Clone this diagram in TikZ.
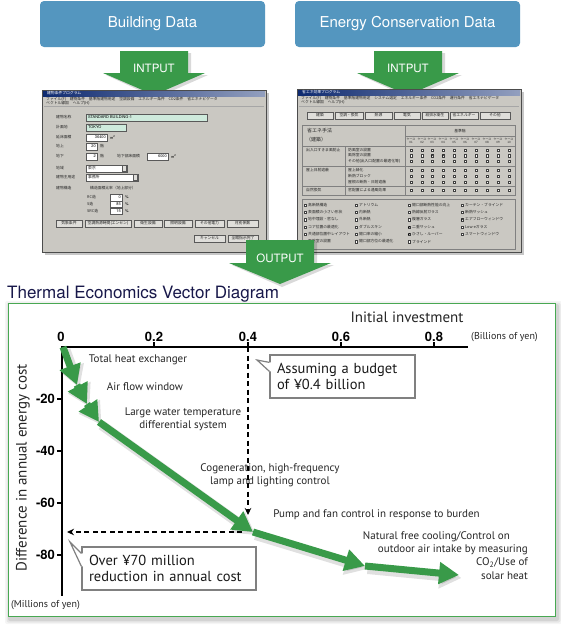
\documentclass[tikz,border=0pt]{standalone}
\usepackage{fontspec}
\setmainfont{PT Sans}
\newfontfamily\helv{TeX Gyre Heros}
\newfontfamily\jpfont{Noto Sans CJK JP}
\usetikzlibrary{arrows.meta}

\definecolor{boxblue}{RGB}{84,150,191}
\definecolor{vecgreen}{RGB}{57,154,73}
\definecolor{framegreen}{RGB}{72,168,82}
\definecolor{titlenavy}{RGB}{24,24,74}
\definecolor{wingray}{RGB}{202,200,194}
\definecolor{fieldgreen}{RGB}{206,234,220}
\definecolor{barblue}{RGB}{14,42,112}

\newcommand{\ioarrow}[4]{%
  \fill[black,opacity=0.15] ({#1-32},{#2+2}) -- ({#1+37},{#2+2}) -- ({#1+37},{#3+2}) -- ({#1+54},{#3+2}) -- ({#1+2},{#4+3}) -- ({#1-48},{#3+2}) -- ({#1-32},{#3+2}) -- cycle;
  \fill[vecgreen] ({#1-34},#2) -- ({#1+34},#2) -- ({#1+34},#3) -- ({#1+51},#3) -- (#1,#4) -- ({#1-51},#3) -- ({#1-34},#3) -- cycle;
}

\begin{document}
\begin{tikzpicture}[x=1pt,y=-1pt,
  topbox/.style={fill=boxblue, rounded corners=4pt, minimum width=225pt, minimum height=46pt, inner sep=0pt, text=white, font=\helv\fontsize{15}{18}\selectfont},
  iotext/.style={inner sep=0pt, text=white, font=\helv\fontsize{11.5}{13}\selectfont},
  winframe/.style={fill=wingray, draw=black!70, line width=0.9pt},
  btn/.style={fill=wingray!60!white, draw=black!65, line width=0.4pt},
  fld/.style={fill=white, draw=black!65, line width=0.4pt},
  cb/.style={fill=white, draw=black!75, line width=0.3pt},
  jp/.style={anchor=west, inner sep=0pt, text=black!85, font=\jpfont\fontsize{3.8}{4.4}\selectfont},
  jpc/.style={jp, anchor=center},
  en/.style={anchor=west, inner sep=0pt, font=\helv\fontsize{3.9}{4.4}\selectfont},
  axisline/.style={line width=2pt, line cap=rect},
  ticklbl/.style={inner sep=0pt, font=\helv\bfseries\fontsize{13}{13}\selectfont},
  unitlbl/.style={inner sep=0pt, text=black!85, font=\fontsize{10}{12}\selectfont},
  vec/.style={line width=7pt, draw=vecgreen, -{Triangle[length=20pt,width=21pt]}},
  vecshadow/.style={line width=10pt, draw=black, opacity=0.12, -{Triangle[length=22pt,width=24pt]}},
  lbl/.style={inner sep=0pt, align=center, text=black!85, font=\fontsize{11}{13.2}\selectfont},
  guide/.style={line width=1.7pt, dash pattern=on 5pt off 3.5pt, -{Stealth[length=7pt,width=6.5pt]}},
  callbox/.style={draw=black!50, line width=1.2pt, fill=white, minimum height=43pt, inner xsep=7pt, align=left, text=black!90, font=\fontsize{14.5}{16.5}\selectfont}
]
  \fill[white] (0,0) rectangle (561,625);
  \useasboundingbox (0,0) rectangle (561,625);

  \node[topbox] (bldg) at (152.5,24) {Building Data};
  \node[topbox] (econ) at (407.5,24) {Energy Conservation Data};

  \ioarrow{154}{51}{73}{95}
  \ioarrow{408}{51}{73}{95}
  \node[iotext] (in1) at (154,68) {INTPUT};
  \node[iotext] (in2) at (408,68) {INTPUT};

  \fill[black,opacity=0.22] (45,93) rectangle (269,255);
  \draw[winframe] (42,90) rectangle (266,252);
  \shade[left color=barblue, right color=barblue!45] (43,91) rectangle (265,96);
  \node[jp, text=white] (lwt) at (47,93.5) {建物条件プログラム};
  \node[jp] (lwm1) at (46,98.8) {ファイル(F)\quad 建物条件\quad 基準階建物用途\quad 空調設備\quad エネルギー条件\quad CO2条件\quad 省エネナビゲータ};
  \node[jp] (lwm2) at (46,102.8) {ベクトル線図\quad ヘルプ(H)};
  \draw[black!35, line width=0.4pt] (44,106) -- (264,106);
  \foreach \t/\y [count=\i] in {建物名称/117.5, 計画地/127.5, 延床面積/137.5, 地上/146.5, 地下/156.5, 地域/168.5, 建物主用途/177.5, 建物構造/188} 
    \node[jp] (lw\i) at (56,\y) {\t};
  \draw[fld, fill=fieldgreen] (86,114) rectangle (207,121);
  \draw[fld, fill=fieldgreen] (86,124) rectangle (126,131);
  \foreach \xa/\ya/\xb/\yb in {86/134/107/141, 86/143/97/150, 86/153/97/160, 147/153/168/160, 110/194/122/201, 110/201/122/207.5, 110/208/122/214.5}
    \draw[fld] (\xa,\ya) rectangle (\xb,\yb);
  \draw[fld] (86,165) rectangle (127,172);
  \draw[btn] (122,165.5) rectangle (126.5,171.5);
  \draw[fld] (86,174) rectangle (138,181);
  \draw[btn] (133,174.5) rectangle (137.5,180.5);
  \node[en] (lf1) at (88,117.5) {STANDARD BUILDING-1};
  \node[en] (lf2) at (88,127.5) {TOKYO};
  \node[en, anchor=east] (lf3) at (106,137.5) {36400};
  \node[en, anchor=east] (lf4) at (96,146.5) {20};
  \node[en, anchor=east] (lf5) at (96,156.5) {2};
  \node[en, anchor=east] (lf6) at (167,156.5) {6000};
  \node[en, anchor=east] (lf7) at (121,197.5) {0};
  \node[en, anchor=east] (lf8) at (121,204.3) {85};
  \node[en, anchor=east] (lf9) at (121,211.3) {15};
  \node[en] (lu1) at (110,137.5) {m\textsuperscript{2}};
  \node[jp] (lu2) at (100,146.5) {階};
  \node[jp] (lu3) at (100,156.5) {階};
  \node[jp] (lu4) at (117,156.5) {地下部床面積};
  \node[en] (lu5) at (171,156.5) {m\textsuperscript{2}};
  \node[jp] (lc1) at (88,168.5) {東京};
  \node[jp] (lc2) at (88,177.5) {事務所};
  \node[jp] (ls0) at (90,188) {構造面積比率（地上部分）};
  \foreach \t/\y [count=\i] in {RC造/197.5, S造/204.3, SRC造/211.3} {
    \node[jp] (ls\i) at (87,\y) {\t};
    \node[en] (lp\i) at (125,\y) {\%};
  }
  \foreach \xa/\xb/\t [count=\i] in {56/82/気象条件, 85/131/空調熱源時間(エンセン), 134/162/衛生設備, 164/192/照明設備, 195/224/その他電力, 227/258/月別係数} {
    \draw[btn] (\xa,220) rectangle (\xb,227);
    \node[jpc] (lb\i) at ({(\xa+\xb)/2},223.5) {\t};
  }
  \draw[btn] (194,235) rectangle (225,242);
  \node[jpc] (lk1) at (209.5,238.5) {キャンセル};
  \draw[btn] (228,235) rectangle (258,242);
  \node[jpc] (lk2) at (243,238.5) {全館指示完了};

  \fill[black,opacity=0.22] (300,92) rectangle (524,255);
  \draw[winframe] (297,89) rectangle (521,252);
  \shade[left color=barblue, right color=barblue!45] (298,90) rectangle (520,95);
  \node[jp, text=white] (rwt) at (302,92.5) {省エネ効果プログラム};
  \node[jp] (rwm1) at (301,97.8) {ファイル(F)\quad 建物条件\quad 基準階建物用途\quad システム選定\quad エネルギー条件\quad CO2条件\quad 運行条件\quad 省エネナビゲータ};
  \node[jp] (rwm2) at (301,101.8) {ベクトル線図\quad ヘルプ(H)};
  \draw[black!35, line width=0.4pt] (299,106) -- (519,106);
  \foreach \xa/\xb/\t [count=\i] in {307/333/建築, 335/363/空調・換気, 365/392/熱源, 394/420/電気, 422/448/給排水衛生, 450/478/省エネルギー, 480/510/その他} {
    \draw[btn] (\xa,112) rectangle (\xb,119);
    \node[jpc] (rb\i) at ({(\xa+\xb)/2},115.5) {\t};
  }
  \draw[black!50, line width=0.4pt] (302,125) rectangle (515,195);
  \draw[black!50, line width=0.4pt] (405,125) -- (405,195) (302,146) -- (515,146) (302,166) -- (515,166) (302,186) -- (515,186) (345,146) -- (345,195) (405,136) -- (515,136);
  \node[jp, font=\jpfont\fontsize{5}{6}\selectfont] (rh1) at (307,131) {省エネ手法};
  \node[jp, font=\jpfont\fontsize{5}{6}\selectfont] (rh2) at (306,140) {（建築）};
  \node[jpc] (rh3) at (460,131) {基準階};
  \foreach \x [count=\i] in {411,422,432,443,454,465,476,487,498,509}
    \node[jpc, align=center, font=\jpfont\fontsize{3}{3.4}\selectfont] (rc\i) at (\x,141) {ケース\\\ifnum\i<10 0\fi\i};
  \node[jp] (rg1) at (306,150) {出入口すきま風防止};
  \node[jp] (rg2) at (306,170) {屋上日射遮蔽};
  \node[jp] (rg3) at (306,190) {自然換気};
  \foreach \t/\y [count=\i] in {防風室の設置/150, 風除室の設置/155.5, その他(出入口配置の最適化等)/161, 屋上緑化/170, 断熱ブロック/176, 屋根の断熱・日射遮蔽/182, 窓配置による通風効果/190}
    \node[jp] (rr\i) at (348,\y) {\t};
  \foreach \y in {150,155.5,161,170,176,182,190}
    \foreach \x in {411,422,432,443,454,465,476,487,498,509}
      \draw[cb] ({\x-1.3},{\y-1.3}) rectangle ({\x+1.3},{\y+1.3});
  \foreach \x/\y in {432/155.5, 443/155.5}
    \draw[line width=0.4pt] ({\x-0.9},\y) -- ({\x-0.2},{\y+0.8}) -- ({\x+1},{\y-0.9});
  \draw[black!50, line width=0.4pt] (302,199) rectangle (515,249);
  \foreach \x/\y/\t [count=\i] in {305/205/高断熱構造, 305/212/表面積の小さい形状, 305/219.5/地中埋設・窓なし, 305/227/コア位置の最適化, 305/234/共通部位置中レイアウト, 305/241.5/風除室の設置,
      356/205/アトリウム, 356/212/内断熱, 356/219.5/外断熱, 356/227/ダブルスキン, 356/234/開口率の縮小, 356/241.5/開口部方位の最適化,
      409/205/開口部断熱性能の向上, 409/212/熱線反射ガラス, 409/219.5/複層ガラス, 409/227/二重サッシュ, 409/234/ひさし・ルーバー, 409/241.5/ブラインド,
      462/205/カーテン・ブラインド, 462/212/断熱サッシュ, 462/219.5/エアフローウィンドウ, 462/227/Low-eガラス, 462/234/スマートウィンドウ} {
    \draw[cb] ({\x-1.3},{\y-1.3}) rectangle ({\x+1.3},{\y+1.3});
    \node[jp] (rl\i) at ({\x+3},\y) {\t};
  }
  \foreach \x/\y in {409/227, 409/234, 462/219.5}
    \draw[line width=0.4pt] ({\x-0.9},\y) -- ({\x-0.2},{\y+0.8}) -- ({\x+1},{\y-0.9});

  \ioarrow{280}{240}{263}{284}
  \node[iotext] (out) at (280,258) {OUTPUT};

  \node[anchor=base west, inner sep=0pt, text=titlenavy, font=\helv\fontsize{17}{20}\selectfont] (title) at (7,298) {Thermal Economics Vector Diagram};

  \foreach \s/\o in {5/0.04, 3.5/0.06, 2/0.08}
    \fill[black, opacity=\o, rounded corners=2pt] ({8-\s+2},{303-\s+3}) rectangle ({555+\s+2},{616+\s+3});
  \draw[fill=white, draw=framegreen, line width=1pt] (8,303) rectangle (555,616);

  \node[inner sep=0pt, text=black!85, font=\fontsize{15}{18}\selectfont] (xlab) at (407,317) {Initial investment};
  \node[unitlbl] (xunit) at (504.5,337) {(Billions of yen)};
  \node[inner sep=0pt, rotate=90, text=black!85, font=\fontsize{15}{18}\selectfont] (ylab) at (23,468) {Difference in annual energy cost};
  \node[unitlbl, anchor=west] (yunit) at (11,605) {(Millions of yen)};

  \coordinate (org) at (62,347);
  \coordinate (xend) at (467,347);
  \coordinate (yend) at (62,595);
  \coordinate (x04) at (248,347);
  \draw[axisline] (xend) -- (org) -- (yend);
  \foreach \x/\t [count=\i] in {61/0, 154/0.2, 248/0.4, 341/0.6, 434/0.8}
    \node[ticklbl] (xt\i) at (\x,337) {\t};
  \foreach \x in {154,248,341,434}
    \draw[line width=1.6pt] (\x,347) -- (\x,342);
  \foreach \y/\t [count=\i] in {399/-20, 451/-40, 503/-60, 555/-80} {
    \node[ticklbl, anchor=east] (yt\i) at (55,\y) {\t};
    \draw[line width=1.6pt] (57,\y) -- (62,\y);
  }

  \coordinate (p0) at (63,347);
  \coordinate (p1) at (77,385);
  \coordinate (p2) at (87,404);
  \coordinate (p3) at (99,422);
  \coordinate (p4) at (253,532);
  \coordinate (p5) at (365,566);
  \coordinate (p6) at (459,575);

  \draw[guide, shorten >=17pt] (x04) -- (x04 |- p4);
  \draw[guide, shorten <=11pt, shorten >=5pt] (p4) -- (org |- p4);

  \foreach \a/\b in {p0/p1, p1/p2, p2/p3, p3/p4, p4/p5, p5/p6}
    \draw[vecshadow] ([shift={(2.5,3)}]\a) -- ([shift={(2.5,3)}]\b);
  \foreach \a/\b in {p0/p1, p1/p2, p2/p3, p3/p4, p4/p5, p5/p6}
    \draw[vec] (\a) -- (\b);

  \node[lbl] (m1) at (138,360) {Total heat exchanger};
  \node[lbl] (m2) at (145,387) {Air flow window};
  \node[lbl] (m3) at (183,419) {Large water temperature\\differential system};
  \node[lbl] (m4) at (270,475.5) {Cogeneration, high-frequency\\lamp and lighting control};
  \node[lbl] (m5) at (376.5,515) {Pump and fan control in response to burden};
  \node[lbl, align=right, anchor=east] (m6) at (528,555.5) {Natural free cooling/Control on\hspace*{18pt}\\outdoor air intake by measuring\\CO\textsubscript{2}/Use of\hspace*{9pt}\\solar heat};

  \node[callbox, minimum width=145pt, text width=131pt] (budget) at (342.5,376.5) {Assuming a budget\\of ¥0.4 billion};
  \coordinate (bt) at (257,360);
  \fill[white] ([yshift=-8pt]budget.north west) -- (bt) -- ([yshift=-17pt]budget.north west) -- ([xshift=2pt,yshift=-17pt]budget.north west) -- ([xshift=2pt,yshift=-8pt]budget.north west) -- cycle;
  \draw[black!50, line width=1.2pt] ([yshift=-8pt]budget.north west) -- (bt) -- ([yshift=-17pt]budget.north west);

  \node[callbox, minimum width=174pt, text width=160pt] (saving) at (169,568.5) {Over ¥70 million\\reduction in annual cost};
  \coordinate (st) at (70,542);
  \fill[white] ([yshift=-7pt]saving.north west) -- (st) -- ([yshift=-20pt]saving.north west) -- ([xshift=2pt,yshift=-20pt]saving.north west) -- ([xshift=2pt,yshift=-7pt]saving.north west) -- cycle;
  \draw[black!50, line width=1.2pt] ([yshift=-7pt]saving.north west) -- (st) -- ([yshift=-20pt]saving.north west);
\end{tikzpicture}
\end{document}
